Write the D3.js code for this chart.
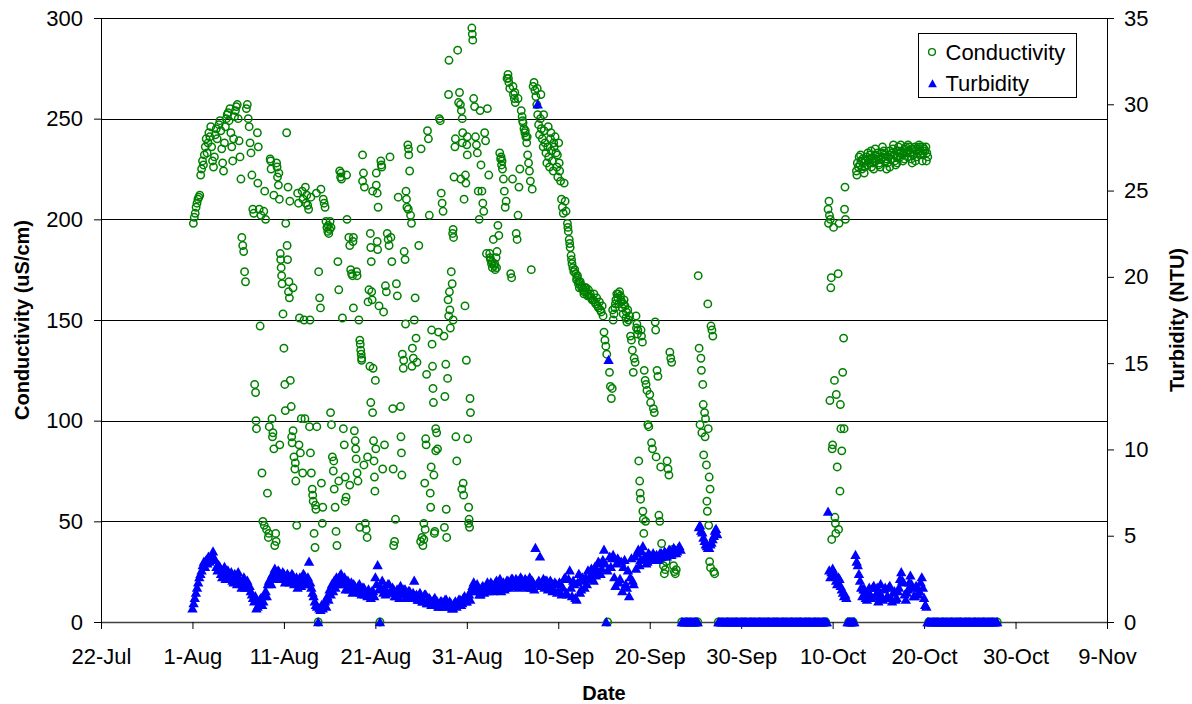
<!DOCTYPE html>
<html>
<head>
<meta charset="utf-8">
<script src="https://cdn.jsdelivr.net/npm/d3@7"></script>
<style>
  body { margin: 0; background: #fff; }
  svg text { font-family: "Liberation Sans", Arial, sans-serif; fill: #000; }
</style>
</head>
<body>
<svg id="chart" width="1192" height="704"></svg>
<script>
// day 0 = 22-Jul; all times are days (fractional) after that
const startDay = Date.UTC(2006, 6, 22);
const dateTickDays = [0, 10, 20, 30, 40, 50, 60, 70, 80, 90, 100, 110];
const condTicks = [0, 50, 100, 150, 200, 250, 300];
const turbTicks = [0, 5, 10, 15, 20, 25, 30, 35];

// conductivity readings [day, uS/cm]
const conductivity = [
 [10.1,198],[10.2,201],[10.3,203],[10.4,206],[10.5,208],[10.6,210],[10.7,211],[10.8,212],
 [10.9,222],[11.0,225],[11.1,229],[11.2,227],[11.3,232],[11.4,236],[11.5,240],[11.6,233],[11.7,238],
 [11.8,243],[11.9,241],[12.0,246],[12.1,236],[12.2,229],[12.3,226],[12.4,231],[12.5,242],[12.6,245],[12.7,240],
 [12.9,247],[13.0,249],[13.1,244],[13.2,235],[13.3,228],[13.4,224],[13.5,238],[13.6,246],[13.7,250],[13.8,252],
 [13.9,253],[14.0,249],[14.1,255],[14.2,243],[14.3,236],[14.4,229],[14.5,240],[14.6,251],[14.7,254],[14.8,256],
 [14.9,257],[15.0,250],[15.1,239],[15.2,231],[15.3,220],[15.4,191],[15.5,187],[15.6,184],[15.7,174],[15.8,169],
 [15.9,255],[16.0,257],[16.1,250],[16.2,246],[16.3,238],[16.4,233],[16.5,222],[16.6,205],[16.7,203],[16.8,118],[16.9,114],[16.95,100],[17.0,96],
 [17.1,243],[17.2,236],[17.3,205],[17.4,147],[17.5,202],[17.6,74],[17.7,50],[17.8,204],
 [18.0,200],[18.1,46],[18.2,64],[18.3,42],[18.4,97],[18.5,230],[18.6,225],[18.7,101],[18.8,94],[18.9,86],
 [19.0,38],[19.1,44],[19.2,228],[19.3,221],[19.4,217],[19.5,210],[19.6,183],[19.7,176],[19.8,168],[19.9,153],
 [20.0,136],[20.1,118],[20.15,105],[20.2,198],[20.3,243],[20.35,187],[20.4,180],[20.5,164],[20.6,161],[20.7,120],[20.8,107],[20.9,89],
 [21.0,95],[21.1,82],[21.2,76],[21.3,70],[21.4,48],[21.5,213],[21.6,208],[21.7,151],[21.8,84],[21.9,101],
 [22.0,214],[22.1,210],[22.2,150],[22.3,101],[22.4,208],[22.5,212],[22.6,207],[22.7,205],[22.8,97],[22.9,84],
 [23.0,74],[23.1,66],[23.2,60],[23.3,44],[23.4,37],[23.5,56],[23.75,0],[23.8,174],[23.9,161],
 [24.0,156],[24.1,69],[24.2,49],[24.3,210],[24.4,208],[24.5,206],[24.6,199],[24.7,196],[24.8,194],[24.9,193],
 [25.0,195],[25.1,104],[25.2,98],[25.3,82],[25.4,75],[25.5,66],[25.6,57],[25.7,45],[25.8,38],[25.9,179],
 [26.0,165],[26.1,224],[26.2,221],[26.3,220],[26.4,151],[26.5,96],[26.6,88],[26.7,72],[26.8,62],[26.9,200],
 [27.1,191],[27.2,187],[27.3,175],[27.4,173],[27.5,172],[27.6,156],[27.7,95],[27.8,90],[27.9,81],
 [28.0,74],[28.1,70],[28.2,150],[28.3,140],[28.4,135],[28.5,131],[28.6,232],[28.7,223],[28.8,216],[28.9,49],
 [29.0,46],[29.1,42],[29.2,159],[29.3,165],[29.4,127],[29.5,109],
 [29.45,193],[29.5,186],[29.55,179],[29.6,164],[29.65,160],[29.7,104],[29.75,126],[29.8,90],[29.85,80],[29.9,72],[29.95,65],
 [30.0,120],[30.05,86],[30.1,223],[30.2,213],[30.3,206],[30.4,157],[30.5,0],[30.6,229],[30.65,227],[30.7,226],[30.8,76],[30.9,154],
 [31.0,88],[31.1,167],[31.2,164],[31.3,193],[31.4,190],[31.5,187],[31.6,231],[31.7,191],[31.8,179],[31.9,106],[31.95,76],
 [32.0,38],[32.1,40],[32.2,51],[32.3,168],[32.4,162],[32.5,211],
 [32.75,107],[32.8,92],[32.85,84],[32.9,73],[32.95,133],[33.05,126],[33.15,184],[33.25,180],[33.3,148],[33.35,214],[33.45,206],
 [33.55,237],[33.65,232],[33.75,224],[33.85,202],[33.95,198],[34.05,136],[34.15,131],[34.25,150],[34.35,161],[34.45,141],[34.55,129],[34.75,187],
 [35.0,235],[35.1,42],[35.2,38],[35.3,49],[35.4,69],[35.5,91],[35.6,123],[35.7,244],[35.8,240],[35.9,202],
 [36.0,64],[36.05,57],[36.1,77],[36.15,145],[36.2,138],[36.25,127],[36.3,116],[36.35,109],[36.4,73],[36.5,45],[36.6,96],[36.7,94],[36.8,86],[36.9,144],
 [37.0,250],[37.1,249],[37.2,213],[37.3,208],[37.4,204],[37.5,142],[37.6,112],[37.7,128],[37.75,56],[37.8,42],[37.9,121],
 [38.0,262],[38.05,279],[38.1,164],[38.15,155],[38.2,146],[38.3,174],[38.4,168],[38.5,195],[38.55,191],[38.6,221],[38.7,236],[38.8,92],[38.9,80],
 [39.0,284],[39.1,258],[39.2,263],[39.3,257],[39.4,254],[39.5,250],[39.55,243],[39.6,69],[39.65,63],[39.7,210],[39.8,157],[39.85,222],[39.9,218],[39.95,130],
 [40.0,237],[40.05,232],[40.1,91],[40.2,57],[40.25,51],[40.3,47],[40.35,111],[40.4,104],
 [40.55,295],[40.6,292],[40.65,289],[40.75,260],[40.85,256],[40.95,241],[41.05,237],[41.15,233],[41.25,214],[41.35,200],
 [41.45,254],[41.55,227],[41.65,214],[41.75,208],[41.85,204],[41.95,243],[42.05,239],[42.15,183],[42.25,255],
 [42.4,222],[42.5,183],[42.6,180],[42.7,178],[42.8,176],[42.9,190],[43.0,177],[43.1,175],[43.2,181],[43.3,184],
 [43.4,197],[43.5,192],[43.6,233],[43.7,230],[43.8,227],[43.9,225],[44.0,220],[44.1,214],[44.2,206],[44.3,209],
 [44.4,270],[44.5,272],[44.6,268],[44.7,265],[44.8,173],[44.9,171],[45.0,220],[45.1,262],[45.2,260],[45.3,258],
 [45.4,193],[45.5,190],[45.6,202],[45.7,216],[45.8,225],
 [45.95,254],[46.05,251],[46.15,248],[46.25,245],[46.35,243],[46.45,241],[46.55,238],[46.65,232],[46.75,228],[46.85,224],
 [46.95,219],[47.05,175],[47.15,215],[47.25,266],[47.35,268],[47.45,264],[47.55,261],[47.65,257],[47.75,252],[47.85,247],
 [47.95,242],[48.05,250],[48.15,245],[48.25,240],[48.35,236],[48.45,244],[48.55,238],[48.65,233],[48.75,228],[48.85,236],
 [48.95,231],[49.05,226],[49.15,240],[49.25,234],[49.35,229],[49.45,224],[49.55,236],[49.65,241],[49.75,233],[49.85,226],
 [49.95,221],[50.05,238],[50.15,224],[50.25,219],[50.35,210],[50.45,206],[50.55,203],[50.65,218],[50.75,209],[50.85,204],
 [51.0,198],[51.1,194],[51.2,190],[51.3,186],[51.4,182],[51.5,178],[51.6,176],[51.7,174],[51.9,173],[52.0,170],
 [52.1,172],[52.2,168],[52.3,166],[52.4,169],[52.6,167],[52.7,165],[52.8,163],[52.9,166],[53.1,164],[53.2,162],
 [53.3,165],[53.5,163],[53.6,161],[53.8,160],[53.9,163],[54.1,158],[54.2,161],[54.4,156],[54.5,159],[54.7,154],
 [54.8,157],[54.9,152],[55.0,144],[55.1,140],[55.2,137],[55.3,133],[55.4,0],
 [55.6,124],[55.7,117],[55.8,111],[55.9,116],[56.0,150],[56.1,153],[56.2,156],[56.3,160],[56.4,163],[56.5,161],
 [56.6,158],[56.7,164],[56.8,162],[56.9,159],[57.0,156],[57.1,153],[57.2,160],[57.3,157],[57.4,151],[57.5,149],
 [57.6,155],[57.8,152],[57.9,142],[58.0,140],[58.1,135],[58.2,124],[58.3,131],[58.4,129],[58.5,152],[58.6,148],
 [58.7,145],[58.8,80],[58.9,70],[58.95,64],[59.0,61],[59.05,145],[59.1,142],[59.2,139],[59.25,55],[59.3,51],
 [59.35,44],[59.4,125],[59.5,120],[59.55,50],[59.6,118],[59.7,115],[59.8,98],[59.9,97],[60.0,113],[60.1,109],
 [60.2,89],[60.3,86],[60.4,106],[60.5,104],[60.6,149],[60.65,145],[60.7,82],[60.8,125],[60.9,122],[61.0,53],
 [61.1,50],[61.2,77],[61.3,39],[61.4,32],[61.5,28],[61.6,24],[61.7,26],[61.8,30],[61.9,80],[62.0,76],
 [62.1,73],[62.2,134],[62.3,131],[62.4,129],[62.5,36],[62.6,28],[62.7,25],[62.8,24],[62.9,26],
 [63.5,0],[64.0,0],[64.5,0],[65.0,0],[65.25,0],
 [65.3,172],[65.4,136],[65.5,98],[65.6,131],[65.65,125],[65.7,94],[65.8,118],[65.85,108],[65.9,83],[66.0,104],
 [66.05,92],[66.1,101],[66.2,78],[66.25,60],[66.3,55],[66.35,158],[66.4,96],[66.45,48],[66.5,72],[66.55,30],
 [66.6,66],[66.65,27],[66.7,147],[66.8,145],[66.9,142],[67.0,25],[67.1,24],
 [67.5,0],[68.0,0],[68.5,0],[69.0,0],[69.5,0],[70.0,0],[70.5,0],[71.0,0],[71.5,0],[72.0,0],[72.5,0],[73.0,0],
 [73.5,0],[74.0,0],[74.5,0],[75.0,0],[75.5,0],[76.0,0],[76.5,0],[77.0,0],[77.5,0],[78.0,0],[78.5,0],[79.0,0],[79.25,0],
 [79.5,205],[79.55,198],[79.6,209],[79.65,202],[79.7,110],[79.75,200],[79.8,166],[79.85,171],[79.9,41],[79.95,86],
 [80.0,88],[80.1,196],[80.2,120],[80.25,52],[80.3,49],[80.35,44],[80.4,113],[80.5,77],[80.6,173],[80.65,46],
 [80.7,198],[80.8,65],[80.85,108],[80.9,96],[81.0,85],[81.1,124],[81.2,141],[81.25,96],[81.3,205],[81.35,216],[81.4,200],
 [81.75,0],[82.0,0],[82.25,0],
 [82.6,224],[82.7,228],[82.8,226],[82.9,231],[83.0,227],[83.1,229],[83.2,225],[83.3,230],[83.4,228],[83.5,226],
 [83.6,229],[83.7,231],[83.8,227],[83.9,230],[84.0,228],[84.1,232],[84.2,234],[84.3,230],[84.4,228],[84.5,225],
 [84.6,229],[84.7,232],[84.8,230],[84.9,233],[85.0,231],[85.1,228],[85.2,226],[85.3,230],[85.4,233],[85.5,231],
 [85.6,234],[85.7,232],[85.8,229],[85.9,225],[86.0,228],[86.1,231],[86.2,234],[86.3,232],[86.4,230],[86.5,233],
 [86.6,235],[86.7,232],[86.8,229],[86.9,227],[87.0,231],[87.1,234],[87.2,236],[87.3,233],[87.4,231],[87.5,234],
 [87.6,232],[87.7,229],[87.8,233],[87.9,235],[88.0,236],[88.1,233],[88.2,231],[88.3,234],[88.4,236],[88.5,233],
 [88.6,230],[88.7,228],[88.8,232],[88.9,235],[89.0,236],[89.1,234],[89.2,231],[89.3,233],[89.4,235],[89.5,236],
 [89.6,234],[89.7,232],[89.8,229],[89.9,233],[90.0,235],[90.1,234],[90.2,236],[90.3,233],[90.4,231],
 [90.5,0],[91.0,0],[91.5,0],[92.0,0],[92.5,0],[93.0,0],[93.5,0],[94.0,0],[94.5,0],[95.0,0],[95.5,0],[96.0,0],
 [96.5,0],[97.0,0],[97.5,0],[98.0,0],
 // further readings in the dense parts of the record
 [18.55,229],[19.25,226],[19.45,223],[17.15,218],[17.9,214],[18.9,212],[20.45,216],[20.65,209],
 [19.65,180],[19.75,172],[20.55,169],[21.0,166],[17.85,48],[18.35,44],[19.15,40],[18.75,92],[19.55,88],
 [20.85,92],[21.25,79],[21.65,88],[22.05,74],[22.85,150],[23.15,63],[23.45,58],[24.25,57],[23.6,97],
 [24.85,197],[25.05,199],[25.15,196],[22.35,216],[22.95,211],[23.55,213],[24.05,215],
 [25.45,80],[26.0,70],[26.7,60],[27.2,68],[26.25,223],[26.85,222],[27.55,189],[27.6,191],[27.95,174],[28.0,172],
 [28.35,138],[28.45,133],[28.5,130],[27.85,86],[28.75,78],[29.15,82],[28.3,47],[30.2,189],[30.25,185],
 [28.6,219],[29.7,214],[30.1,217],[33.1,130],[34.0,127],[33.4,210],[33.6,205],[33.62,235],
 [34.95,40],[35.3,41],[35.45,46],[36.45,44],[37.55,47],[35.55,88],[36.6,85],
 [37.95,160],[38.02,152],[38.5,150],[38.75,240],[39.5,238],[40.05,241],[39.35,220],[38.45,193],[39.45,66],[40.2,49],
 [42.55,181],[42.75,179],[43.05,178],[43.25,176],[43.75,231],[43.85,229],[44.55,270],[45.05,266],[45.25,263],[45.6,260],
 [46.1,249],[46.4,244],[46.6,241],[47.7,265],[48.1,262],[48.4,252],[48.9,246],[49.2,243],[49.5,238],[49.9,232],[50.1,228],
 [51.05,196],[51.25,188],[51.45,180],[51.8,175],[52.05,171],[52.25,169],[52.55,166],[52.85,164],[53.05,166],[53.4,162],
 [53.7,160],[54.0,159],[54.3,157],[54.6,155],[55.95,155],[56.25,158],[56.55,163],[56.85,160],[57.15,158],[57.45,154],
 [57.7,150],[58.55,146],[58.65,143],
 [82.65,222],[83.05,232],[83.45,223],[83.85,233],[84.25,226],[84.65,235],[85.05,227],[85.45,236],[85.85,230],[86.25,226],
 [86.65,237],[87.05,228],[87.45,237],[87.85,230],[88.25,237],[88.65,235],[89.05,229],[89.45,237],[89.85,236],[90.25,229]
];

// turbidity (NTU), one reading every 3 hours starting 1-Aug 00:00 (one line per day)
const turbStartDay = 10;
const turbStepDays = 0.125;
const turbidity = [
 0.8,1.1,1.4,1.7,2.0,2.3,2.6,2.8,
 3.0,3.3,3.5,3.2,3.6,3.4,3.8,3.5,
 3.7,3.9,4.1,3.7,3.6,3.2,3.0,3.3,
 3.2,2.8,2.6,3.0,3.2,2.5,2.8,3.0,
 2.5,2.7,2.9,2.4,2.3,2.8,2.6,2.2,
 2.9,2.5,2.4,2.0,2.2,2.6,2.0,2.3,
 2.4,2.0,2.1,1.8,1.6,1.4,1.2,1.5,
 0.8,0.9,1.0,1.3,1.4,1.0,1.2,1.5,
 1.8,1.5,2.2,2.4,2.5,2.2,2.8,2.5,
 3.1,2.6,2.7,3.0,2.9,2.5,2.6,2.9,
 2.8,2.3,2.4,2.8,2.7,2.3,2.5,2.8,
 2.7,2.2,2.3,2.6,2.0,2.4,2.6,2.1,
 2.4,2.8,2.7,2.2,2.2,2.6,3.5,2.3,
 2.0,1.7,1.5,1.2,1.0,0.9,0,0.8,
 0.7,1.0,0.8,1.1,1.2,0.9,1.5,1.3,
 1.9,1.6,2.2,1.8,2.4,2.0,2.6,2.2,
 2.3,2.7,2.8,2.4,2.2,2.6,1.9,2.3,
 2.4,1.9,2.0,2.3,1.7,2.2,2.1,1.8,
 1.8,2.1,2.2,1.7,1.6,2.0,2.0,1.6,
 1.7,1.5,1.9,1.6,1.4,1.8,1.8,1.5,
 2.6,2.2,3.3,1.9,0,2.0,2.4,1.7,
 2.0,1.6,1.8,2.2,2.2,1.7,1.7,2.0,
 1.9,1.5,1.5,1.9,1.8,1.4,2.1,1.7,
 1.6,1.9,1.9,1.4,1.5,1.8,1.8,1.4,
 1.4,1.7,2.4,1.5,1.6,1.3,1.3,1.7,
 1.5,1.2,1.2,1.6,1.6,1.1,1.1,1.4,
 1.3,1.0,1.0,1.3,1.4,1.1,1.2,0.9,
 0.9,1.2,1.2,0.9,1.0,1.3,1.3,1.0,
 0.9,1.2,1.1,0.8,0.8,1.1,1.2,0.9,
 1.0,1.3,1.3,1.0,1.1,1.4,1.5,1.2,
 1.2,1.5,1.6,1.3,1.9,2.1,2.3,1.8,
 1.8,2.2,2.0,1.6,1.6,2.0,2.1,1.7,
 1.8,2.1,2.3,1.8,1.9,2.3,2.2,1.8,
 2.0,2.3,2.4,1.9,2.1,2.5,1.8,2.2,
 2.3,1.9,2.0,2.4,2.4,2.0,2.2,2.5,
 2.5,2.1,2.1,2.5,2.4,2.0,2.2,2.6,
 2.5,2.2,2.1,2.5,2.4,2.0,2.2,2.6,
 2.0,2.4,2.3,1.9,4.3,2.2,30.0,2.4,
 3.8,2.1,2.3,2.5,2.0,2.4,2.4,1.9,
 2.1,2.4,2.3,1.8,1.9,2.3,2.2,1.7,
 1.8,2.3,2.2,1.6,2.0,2.5,2.6,1.7,
 1.6,2.5,3.0,2.0,1.5,2.4,2.2,1.4,
 1.3,2.3,2.8,1.7,1.9,2.6,2.4,2.0,
 2.6,2.2,3.0,2.5,2.7,3.1,2.9,2.4,
 3.2,2.7,3.0,3.5,3.4,2.8,3.1,3.6,
 4.2,3.4,0,3.0,15.2,3.8,3.2,3.7,
 3.9,2.6,2.1,3.4,3.7,2.3,2.5,3.5,
 1.8,3.2,3.6,2.2,2.0,3.0,1.5,2.6,
 3.7,2.4,2.2,3.8,3.1,4.0,4.2,3.3,
 3.6,4.1,4.4,3.7,3.8,3.4,3.5,4.0,
 3.9,3.6,3.7,4.0,3.6,3.8,3.9,3.6,
 3.7,4.0,4.0,3.8,3.8,4.1,4.0,3.8,
 3.9,4.2,4.1,3.9,4.0,4.3,4.2,4.0,
 4.1,4.3,4.4,4.2,0,0,0,0,
 0,0,0,0,0,0,0,0,
 0,0,0,5.5,5.6,5.3,5.2,4.9,
 4.7,4.5,4.4,4.3,4.3,4.5,4.6,4.8,
 5.0,5.3,5.4,5.1,0,0,0,0,
 0,0,0,0,0,0,0,0,
 0,0,0,0,0,0,0,0,
 0,0,0,0,0,0,0,0,
 0,0,0,0,0,0,0,0,
 0,0,0,0,0,0,0,0,
 0,0,0,0,0,0,0,0,
 0,0,0,0,0,0,0,0,
 0,0,0,0,0,0,0,0,
 0,0,0,0,0,0,0,0,
 0,0,0,0,0,0,0,0,
 0,0,0,0,0,0,0,0,
 0,0,0,0,6.4,3.0,2.6,2.9,
 3.1,2.7,2.8,2.4,2.2,2.6,2.5,2.1,
 1.9,1.7,1.5,1.6,1.4,0,0,0,
 0,0,0,0,3.9,3.5,3.3,2.8,
 2.4,2.0,1.5,1.9,1.9,1.4,1.3,1.8,
 2.0,1.6,1.4,2.0,2.1,1.5,1.6,2.0,
 1.2,1.7,2.2,1.5,1.3,1.9,2.0,1.4,
 1.5,2.0,2.1,1.4,1.2,1.7,1.8,1.3,
 1.4,1.8,2.0,2.5,2.9,2.4,2.3,1.6,
 1.3,1.7,1.9,2.3,2.7,2.2,2.0,1.5,
 1.5,2.1,2.0,1.6,1.8,2.3,2.6,2.0,
 1.4,1.0,0.9,0,0,0,0,0,
 0,0,0,0,0,0,0,0,
 0,0,0,0,0,0,0,0,
 0,0,0,0,0,0,0,0,
 0,0,0,0,0,0,0,0,
 0,0,0,0,0,0,0,0,
 0,0,0,0,0,0,0,0,
 0,0,0,0,0,0,0,0,
 0
];

function dayToDate(d) {
  return new Date(startDay + d * 86400000);
}

function getConfig() {
  let width = 1192;
  let height = 704;
  let margin = { top: 18, bottom: 82, left: 101, right: 85 };
  let bodyWidth = width - margin.left - margin.right;
  let bodyHeight = height - margin.top - margin.bottom;
  let container = d3.select("#chart");
  return { width, height, margin, bodyWidth, bodyHeight, container };
}

function getScales(config) {
  let { margin, width, height } = config;
  let xScale = d3.scaleUtc()
    .domain([dayToDate(0), dayToDate(110)])
    .range([margin.left, width - margin.right]);
  let yCond = d3.scaleLinear()
    .domain([0, 300])
    .range([height - margin.bottom, margin.top]);
  let yTurb = d3.scaleLinear()
    .domain([0, 35])
    .range([height - margin.bottom, margin.top]);
  return { xScale, yCond, yTurb };
}

function drawAxes(config, scales) {
  let { container, margin, width, height } = config;
  let { xScale, yCond, yTurb } = scales;

  // horizontal gridlines
  container.append("g")
    .selectAll("line")
    .data(condTicks.filter(t => t > 0))
    .enter()
    .append("line")
      .attr("x1", margin.left)
      .attr("x2", width - margin.right)
      .attr("y1", d => Math.round(yCond(d)) + 0.5)
      .attr("y2", d => Math.round(yCond(d)) + 0.5)
      .attr("stroke", "#000")
      .attr("stroke-width", 1);

  let left = container.append("g")
    .attr("transform", "translate(" + margin.left + ",0)")
    .call(d3.axisLeft(yCond).tickValues(condTicks).tickSize(7).tickSizeOuter(0).tickPadding(11));

  let right = container.append("g")
    .attr("transform", "translate(" + (width - margin.right) + ",0)")
    .call(d3.axisRight(yTurb).tickValues(turbTicks).tickSize(7).tickSizeOuter(0).tickPadding(10));

  let bottom = container.append("g")
    .attr("transform", "translate(0," + (height - margin.bottom) + ")")
    .call(d3.axisBottom(xScale)
      .tickValues(dateTickDays.map(dayToDate))
      .tickFormat(d3.utcFormat("%-d-%b"))
      .tickSize(7).tickSizeOuter(0).tickPadding(19));

  [left, right, bottom].forEach(g => {
    g.selectAll("text").style("font-size", "22px").attr("fill", "#000");
    g.selectAll("line").attr("stroke", "#000");
    g.select(".domain").attr("stroke", "#000");
  });
  bottom.select(".domain").attr("stroke", "#404040").attr("stroke-width", 1.6);

  // axis titles
  container.append("text")
    .attr("transform", "translate(29," + (margin.top + (height - margin.top - margin.bottom) / 2) + ")rotate(-90)")
    .attr("text-anchor", "middle")
    .style("font-size", "20px")
    .style("font-weight", "bold")
    .text("Conductivity (uS/cm)");

  container.append("text")
    .attr("transform", "translate(1184," + (margin.top + (height - margin.top - margin.bottom) / 2) + ")rotate(-90)")
    .attr("text-anchor", "middle")
    .style("font-size", "20px")
    .style("font-weight", "bold")
    .text("Turbidity (NTU)");

  container.append("text")
    .attr("x", (margin.left + width - margin.right) / 2)
    .attr("y", 700)
    .attr("text-anchor", "middle")
    .style("font-size", "20px")
    .style("font-weight", "bold")
    .text("Date");
}

const trianglePath = "M0,-5L5.2,4.2L-5.2,4.2Z";

function drawPoints(config, scales) {
  let { container } = config;
  let { xScale, yCond, yTurb } = scales;

  container.append("g")
    .selectAll("circle")
    .data(conductivity)
    .enter()
    .append("circle")
      .attr("cx", d => xScale(dayToDate(d[0])))
      .attr("cy", d => yCond(d[1]))
      .attr("r", 3.7)
      .attr("fill", "none")
      .attr("stroke", "#008000")
      .attr("stroke-width", 1.5);

  let turbData = turbidity.map((v, i) => ({ day: turbStartDay + i * turbStepDays, value: v }));

  container.append("g")
    .selectAll("path")
    .data(turbData)
    .enter()
    .append("path")
      .attr("d", trianglePath)
      .attr("transform", d => "translate(" + xScale(dayToDate(d.day)) + "," + yTurb(d.value) + ")")
      .attr("fill", "#0000ff");
}

function drawLegend(config) {
  let { container } = config;
  let g = container.append("g").attr("transform", "translate(918.5,33.5)");
  g.append("rect")
    .attr("width", 158)
    .attr("height", 64)
    .attr("fill", "#fff")
    .attr("stroke", "#000")
    .attr("stroke-width", 1);
  g.append("circle")
    .attr("cx", 13.5).attr("cy", 18.5).attr("r", 3.4)
    .attr("fill", "none").attr("stroke", "#008000").attr("stroke-width", 1.4);
  g.append("text").attr("x", 27).attr("y", 26).style("font-size", "22px").text("Conductivity");
  g.append("path")
    .attr("d", "M0,-4.3L4.4,3.7L-4.4,3.7Z")
    .attr("transform", "translate(14,50)")
    .attr("fill", "#0000ff");
  g.append("text").attr("x", 27).attr("y", 57).style("font-size", "22px").text("Turbidity");
}

let config = getConfig();
let scales = getScales(config);
drawAxes(config, scales);
drawPoints(config, scales);
drawLegend(config);
</script>
</body>
</html>
